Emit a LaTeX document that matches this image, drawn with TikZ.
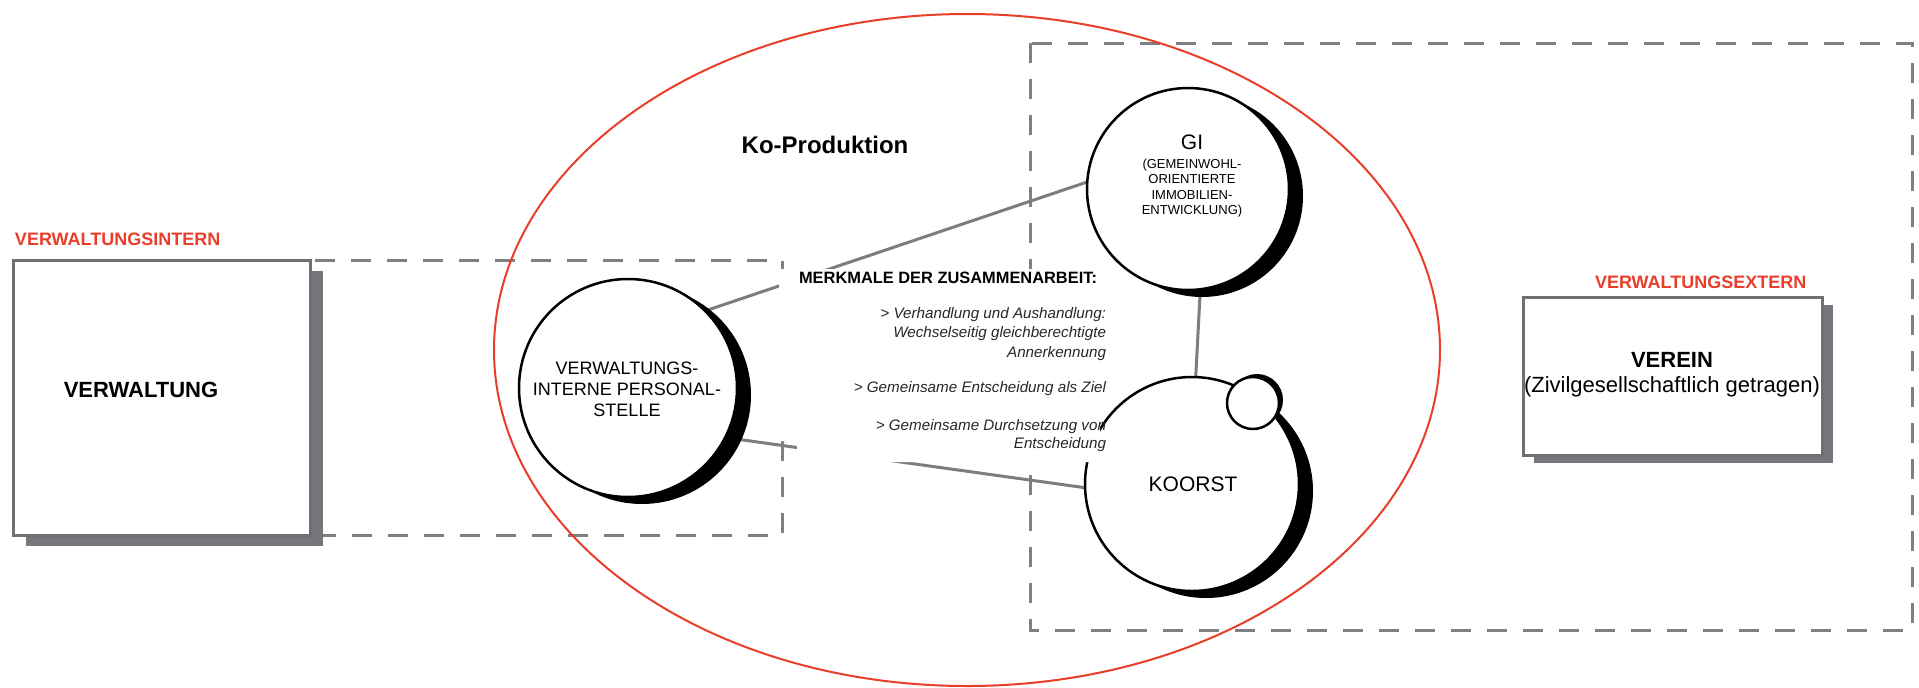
\documentclass[tikz,border=0pt]{standalone}
\usepackage{fontspec}
\setmainfont{Liberation Sans}
\usetikzlibrary{calc}
\pgfdeclarelayer{background}
\pgfdeclarelayer{foreground}
\pgfsetlayers{background,main,foreground}

\definecolor{dashgray}{RGB}{128,128,130}
\definecolor{boxgray}{RGB}{112,112,116}
\definecolor{shadowgray}{RGB}{118,118,124}
\definecolor{linegray}{RGB}{125,125,128}
\definecolor{accent}{RGB}{232,62,42}
\definecolor{bodytext}{RGB}{40,40,40}

\begin{document}
\begin{tikzpicture}[x=0.5pt, y=-0.5pt,
  every node/.style={inner sep=0pt, outer sep=0pt},
  frame/.style={draw=dashgray, line width=1.5pt, dash pattern=on 10pt off 8pt},
  link/.style={draw=linegray, line width=1.5pt},
  actor/.style={rectangle, draw=boxgray, line width=1.5pt, fill=white},
  blob/.style={circle, draw=black, line width=1.25pt, fill=white},
  tag/.style={text=accent, font=\bfseries\fontsize{9}{10.8}\selectfont},
  point/.style={anchor=base east, text=bodytext, font=\itshape\fontsize{7.6}{9.5}\selectfont}
]
\useasboundingbox (0,0) rectangle (1919,687);

% ---------- actors (rectangles with drop shadow) ----------
\fill[shadowgray] (26,271) rectangle (323,546);
\node[actor, minimum width=148.5pt, minimum height=137.5pt] (verw) at (161.5,397.5) {};
\node[font=\bfseries\fontsize{11}{13}\selectfont] (verwtext) at (141,390) {VERWALTUNG};
\node[tag, anchor=base west] (intern) at (15,245) {VERWALTUNGSINTERN};

\fill[shadowgray] (1534,305) rectangle (1833,463);
\node[actor, minimum width=149.5pt, minimum height=79pt] (verein) at (1672.5,376) {};
\node[align=center, font=\fontsize{11}{12.5}\selectfont] (vereintext) at (1672,375)
  {\textbf{VEREIN}\\(Zivilgesellschaftlich getragen)};
\node[tag, anchor=base west] (extern) at (1595,288) {VERWALTUNGSEXTERN};

\node[font=\bfseries\fontsize{12}{14}\selectfont] (kop) at (825,145) {Ko-Produktion};

% ---------- circles with crescent shadow ----------
\fill[black] (642,395) circle[radius=54.5pt];
\node[blob, minimum size=109pt] (vi) at (628,388) {};
\node[align=center, font=\fontsize{9}{10.5}\selectfont] (vitext) at (627,389)
  {VERWALTUNGS-\\INTERNE PERSONAL-\\STELLE};

\fill[black] (1202,196) circle[radius=50.5pt];
\node[blob, minimum size=101pt] (gi) at (1188,189) {};
\node[font=\fontsize{10.5}{12}\selectfont] (gititle) at (1192,142) {GI};
\node[align=center, font=\fontsize{6.5}{7.75}\selectfont] (gisub) at (1192,188)
  {(GEMEINWOHL-\\ORIENTIERTE\\IMMOBILIEN-\\ENTWICKLUNG)};

\fill[black] (1206,491) circle[radius=53.5pt];
\node[blob, minimum size=107pt] (ko) at (1192,484) {};
\node[font=\fontsize{10.5}{12}\selectfont] (kotext) at (1193,484) {KOORST};

\fill[black] (1257,400) circle[radius=13pt];
\node[blob, minimum size=26pt] (knob) at (1253,403) {};

% ---------- frames, field and links behind everything ----------
\begin{pgfonlayer}{background}
  \fill[white] (0,0) rectangle (1919,687);
  \draw[frame] (1030,43) rectangle (1912,630);
  \draw[frame] (15,260) rectangle (782,535);
  \draw[accent, line width=1pt] (967,350) ellipse [x radius=236.5pt, y radius=168pt];
  \draw[link] (vi.45) -- (gi.176);
  \draw[link] (vi.-27) -- (ko.182);
  \draw[link] (gi.-83) -- (ko.88);
\end{pgfonlayer}

% ---------- characteristics of the cooperation ----------
\begin{pgfonlayer}{foreground}
  \fill[white] (779,269) -- (1100,269) -- (1100,462) -- (797,462)
    -- (797,441) -- (779,441) -- cycle;
  \node[anchor=base east, font=\bfseries\fontsize{8.2}{9.5}\selectfont] (mhead) at (1097,283)
    {MERKMALE DER ZUSAMMENARBEIT:};
  \node[point] (p1a) at (1106,318.5) {> Verhandlung und Aushandlung:};
  \node[point] (p1b) at (1106,337.5) {Wechselseitig gleichberechtigte};
  \node[point] (p1c) at (1106,357.5) {Annerkennung};
  \node[point] (p2)  at (1106,392.5) {> Gemeinsame Entscheidung als Ziel};
  \node[point] (p3a) at (1106,430.5) {> Gemeinsame Durchsetzung von};
  \node[point] (p3b) at (1106,448.5) {Entscheidung};
\end{pgfonlayer}
\end{tikzpicture}
\end{document}
